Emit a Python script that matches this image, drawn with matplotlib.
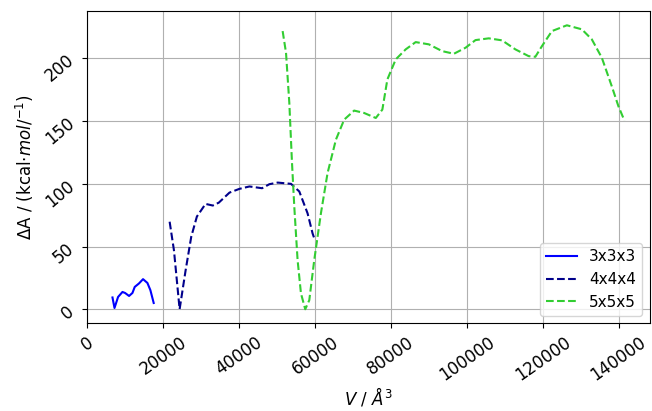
import matplotlib
matplotlib.use("Agg")
import matplotlib.pyplot as plt

# 3x3x3 cell
v_3 = [6620, 7150, 8090, 9250, 9930, 10990, 11880, 12480, 13610, 14670, 15820, 16610, 17480]
a_3 = [9.4, 1.0, 9.8, 13.8, 13.0, 10.6, 13.0, 17.8, 20.6, 24.0, 21.0, 15.2, 5.0]

# 4x4x4 cell
v_4 = [21680, 22820, 24310, 25890, 27380, 28860, 31140, 33060, 34640, 37450, 40080,
       42710, 46040, 47960, 50150, 53660, 55850, 58030, 59350, 59790]
a_4 = [69.8, 47.0, 0.0, 31.0, 57.9, 73.9, 84.0, 82.7, 85.0, 93.0, 96.0,
       97.9, 96.5, 99.7, 101.0, 100.0, 93.9, 76.5, 60.5, 56.6]

# 5x5x5 cell
v_5 = [51460, 52350, 53220, 53930, 54530, 55400, 56290, 57420, 58480, 59790, 61550,
       63300, 65500, 67680, 70310, 72930, 76010, 77740, 79060, 81260, 83890, 86520,
       90000, 93510, 96590, 99660, 102290, 105780, 109280, 112800, 116300, 118060,
       119800, 122430, 126370, 130310, 132940, 135570, 138200, 139960, 141540]
a_5 = [221.8, 204.5, 164.6, 116.6, 81.8, 39.2, 12.6, 0.0, 7.2, 39.2, 76.5,
       108.6, 135.2, 151.2, 158.4, 156.5, 152.5, 159.2, 183.2, 199.2, 207.2, 213.0,
       211.2, 205.8, 203.7, 208.5, 214.6, 216.0, 214.4, 207.2, 201.8, 201.3,
       209.8, 221.8, 226.4, 223.2, 215.2, 200.6, 177.8, 161.8, 150.4]

fig = plt.figure(figsize=(6.52, 4.11), dpi=100)
ax = fig.add_axes([0.134, 0.213, 0.863, 0.76])

ax.plot(v_3, a_3, '-', color='blue', lw=1.5, label='3x3x3')
ax.plot(v_4, a_4, '--', color='darkblue', lw=1.5, label='4x4x4')
ax.plot(v_5, a_5, '--', color='limegreen', lw=1.5, label='5x5x5')

ax.set_xlim(left=0)
ax.grid(True)
ax.tick_params(axis='both', labelsize=12)
plt.setp(ax.get_xticklabels(), rotation=35)
plt.setp(ax.get_yticklabels(), rotation=40)

ax.set_xlabel(r'$V$ / $Å^3$', fontsize=12, labelpad=1)
ax.set_ylabel(r'$\Delta$A / (kcal$\cdot mol/^{-1}$)', fontsize=12)
ax.legend(loc='lower right', fontsize=11)

fig.savefig('out.png', dpi=100)
